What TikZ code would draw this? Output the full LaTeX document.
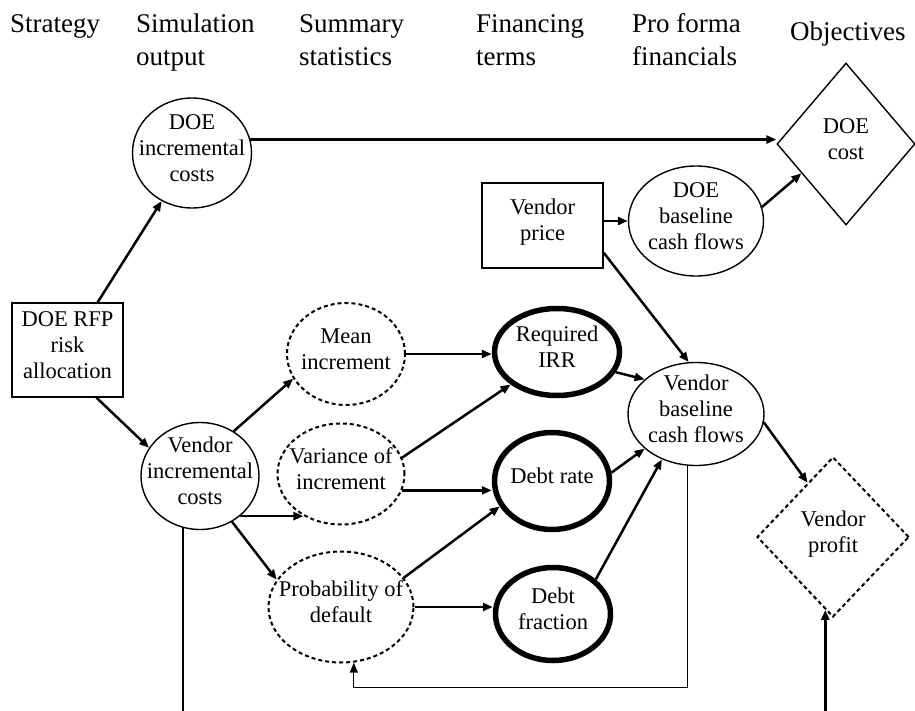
\documentclass[tikz,border=0pt]{standalone}
\usepackage{fontspec}
\setmainfont{Liberation Serif}
\usetikzlibrary{shapes.geometric,arrows.meta,calc}
\newcommand{\nt}[1]{\smash{\raisebox{-0.22em}{\makebox[0pt]{\fontsize{22.5}{26}\selectfont\begin{tabular}{@{}c@{}}#1\end{tabular}}}}}
\newcommand{\hd}[1]{\begin{tabular}[t]{@{}l@{}}#1\end{tabular}}
\tikzset{
  plainell/.style={ellipse, draw, line width=1.4pt, inner sep=0pt},
  dashell/.style={ellipse, draw, line width=2pt, dash pattern=on 4pt off 3pt, inner sep=0pt},
  thickell/.style={ellipse, draw, line width=5.5pt, inner sep=0pt},
  boxnode/.style={rectangle, draw, line width=1.4pt, inner sep=0pt},
  dianode/.style={diamond, draw, line width=1.4pt, inner sep=0pt},
  dashdia/.style={diamond, draw, line width=2pt, dash pattern=on 4pt off 3pt, inner sep=0pt},
  arr/.style={line width=2.5pt, -{Triangle[length=10pt,width=8pt]}},
  thinarr/.style={line width=1.3pt, -{Triangle[length=10pt,width=8pt]}},
  fineline/.style={line width=1.3pt},
  hdr/.style={anchor=base west, inner sep=0pt, font=\fontsize{27}{33}\selectfont},
}
\begin{document}
\begin{tikzpicture}[x=1pt,y=-1pt]
\useasboundingbox (0,0) rectangle (915,711);
% headers
\node[hdr] (h1) at (10,33) {\hd{Strategy}};
\node[hdr] (h2) at (136,33) {\hd{Simulation\\output}};
\node[hdr] (h3) at (299,33) {\hd{Summary\\statistics}};
\node[hdr] (h4) at (476,33) {\hd{Financing\\terms}};
\node[hdr] (h5) at (632,33) {\hd{Pro forma\\financials}};
\node[hdr] (h6) at (790,41) {\hd{Objectives}};
% nodes
\node[plainell, minimum width=119pt, minimum height=110pt] (doeinc) at (192,153) {\nt{DOE\\incremental\\costs}};
\node[boxnode, minimum width=111pt, minimum height=94pt] (rfp) at (67.5,350) {\nt{DOE RFP\\risk\\allocation}};
\node[plainell, minimum width=118pt, minimum height=107pt] (vinc) at (200,476) {\nt{Vendor\\incremental\\costs}};
\node[dashell, minimum width=118pt, minimum height=102pt] (mean) at (346,354) {\nt{Mean\\increment}};
\node[dashell, minimum width=127pt, minimum height=101pt] (var) at (341,474) {\nt{Variance of\\increment}};
\node[dashell, minimum width=145pt, minimum height=111pt] (prob) at (341,607) {\nt{Probability of\\default}};
\node[thickell, minimum width=125pt, minimum height=87pt] (irr) at (557,352) {\nt{Required\\IRR}};
\node[thickell, minimum width=115pt, minimum height=97pt] (drate) at (552,481) {\nt{Debt rate}};
\node[thickell, minimum width=115pt, minimum height=93pt] (dfrac) at (553,614) {\nt{Debt\\fraction}};
\node[boxnode, minimum width=121pt, minimum height=85pt] (vprice) at (542.5,225.5) {\nt{Vendor\\price}};
\node[plainell, minimum width=135pt, minimum height=110pt] (doebase) at (696,221) {\nt{DOE\\baseline\\cash flows}};
\node[dianode, minimum width=138pt, minimum height=162pt] (doecost) at (846,144) {\nt{DOE\\cost}};
\node[plainell, minimum width=136pt, minimum height=103pt] (vbase) at (696,414) {\nt{Vendor\\baseline\\cash flows}};
\node[dashdia, minimum width=152pt, minimum height=160pt] (vprofit) at (833,537) {\nt{Vendor\\profit}};
% free ends
\coordinate (botL) at (183,711);
\coordinate (botR) at (825,711);
\coordinate (vpin) at ($(vprofit.west)!0.9!(vprofit.south)$);
% connectors
\draw[arr] (rfp) -- (doeinc);
\draw[arr] ($(rfp.south)+(29,0)$) -- (vinc.151);
\draw[arr] (doeinc.13) -- (doeinc.13 -| doecost.west);
\draw[arr] (vprice.east |- doebase.west) -- (doebase.west);
\draw[arr] (doebase.12) -- ($(doecost.west)!0.36!(doecost.south)$);
\draw[arr] ($(vprice.south east)+(0,-16)$) -- (vbase.98);
\draw[arr] (vinc.53) -- (mean.205);
\draw[arr] (vinc.-45) -- (vinc.-45 -| var.228);
\draw[arr] (vinc.-55) -- (prob.157);
\draw[arr] (mean.east) -- (mean.east -| irr.west);
\draw[arr] (var.15) -- (irr.215);
\draw[arr] (var.-15) -- (var.-15 -| drate.west);
\draw[arr] (prob.25) -- (drate.206);
\draw[arr] (prob.east) -- (prob.east -| dfrac.west);
\draw[arr] (irr.-19) -- (vbase.146);
\draw[arr] (drate.8) -- (vbase.214);
\draw[arr] (dfrac.39) -- (vbase.233);
\draw[arr] (vbase.-7) -- ($(vprofit.west)!0.67!(vprofit.north)$);
\draw[thinarr] (vbase.261) -- ++(0,222) -| (prob.283);
\draw[fineline] (vinc.252) -- (vinc.252 |- botL);
\draw[arr] (vpin |- botR) -- (vpin);
\end{tikzpicture}
\end{document}
